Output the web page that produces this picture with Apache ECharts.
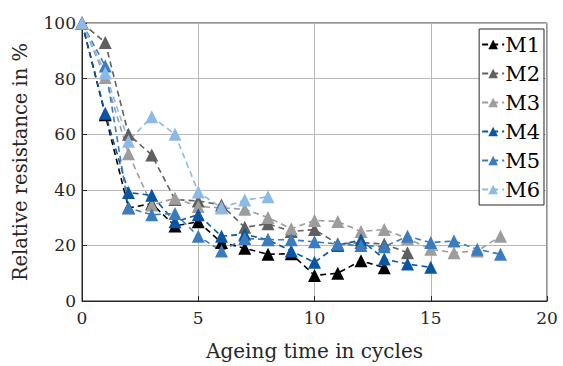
<!DOCTYPE html>
<html>
<head>
<meta charset="utf-8">
<script src="https://cdn.jsdelivr.net/npm/echarts@6/dist/echarts.min.js"></script>
<style>
  html, body { margin: 0; padding: 0; background: #fff; }
  #chart { width: 563px; height: 366px; }
</style>
</head>
<body>
<div id="chart"></div>
<script>
// relative resistance (%) per ageing cycle, index = cycle number
const seriesNames = ['M1', 'M2', 'M3', 'M4', 'M5', 'M6'];
const m1 = [100, 67, 33.5, 35, 27, 28.5, 21, 19, 16.8, 17, 9.2, 10, 14.5, 12];
const m2 = [100, 93, 60, 52.5, 36.5, 36, 34.5, 26.5, 27.8, 25, 25.7, 20.5, 21, 20.5, 17.4];
const m3 = [100, 80.4, 53, 34.5, 37, 34, 33.5, 33, 30, 26, 29, 28.6, 25, 25.7, 22.5, 18.6, 17.4, 18, 23.3];
const m4 = [100, 67.5, 39, 38, 28.5, 31, 23.3, 24, 22, 18, 13.9, 20, 22, 15.1, 13.3, 12.1];
const m5 = [100, 84.5, 33.5, 31, 31.5, 23.3, 18, 22.5, 22.1, 22, 21.3, 20.5, 20, 19.5, 23.3, 21, 21.6, 18.6, 16.8];
const m6 = [100, 82, 57.5, 66.3, 60, 39.2, 33.5, 36.3, 37.5];
const colors = ['#000000', '#5f5f5f', '#9d9d9d', '#0a56a4', '#3a7cbf', '#8cb9e6'];

const allData = [m1, m2, m3, m4, m5, m6];
const font = 'DejaVu Serif';

// svg renderer keeps the dash pattern on the lines
const chart = echarts.init(document.getElementById('chart'), null, { renderer: 'svg' });
const option = {
  animation: false,
  color: colors,
  grid: {
    left: 82, right: 16, top: 23, bottom: 60,
    show: true, borderColor: '#262626', borderWidth: 1
  },
  legend: {
    orient: 'vertical',
    right: 19,
    top: 29,
    padding: [5, 4, 5, 2],
    itemGap: 8,
    itemWidth: 22,
    itemHeight: 12,
    backgroundColor: '#fff',
    borderColor: '#262626',
    borderWidth: 1,
    textStyle: { fontFamily: font, fontSize: 21, color: '#000', padding: [0, 0, 0, -4] },
    data: seriesNames
  },
  xAxis: {
    type: 'value', min: 0, max: 20, interval: 5,
    name: 'Ageing time in cycles',
    nameLocation: 'middle', nameGap: 40,
    nameTextStyle: { fontFamily: font, fontSize: 20, color: '#262626' },
    axisLine: { lineStyle: { color: '#262626' } },
    axisTick: { inside: true, length: 5, lineStyle: { color: '#262626' } },
    axisLabel: { fontFamily: font, fontSize: 17, color: '#262626', margin: 8 },
    splitLine: { lineStyle: { color: '#b8b8b8' } }
  },
  yAxis: {
    type: 'value', min: 0, max: 100, interval: 20,
    name: 'Relative resistance in %',
    nameLocation: 'middle', nameGap: 52,
    nameTextStyle: { fontFamily: font, fontSize: 19.5, color: '#262626' },
    axisLine: { show: true, lineStyle: { color: '#262626' } },
    axisTick: { show: true, inside: true, length: 5, lineStyle: { color: '#262626' } },
    axisLabel: { fontFamily: font, fontSize: 17, color: '#262626', margin: 6 },
    splitLine: { lineStyle: { color: '#b8b8b8' } }
  },
  series: seriesNames.map((name, i) => ({
    name: name,
    type: 'line',
    clip: false,
    symbol: 'triangle',
    symbolSize: 13,
    data: allData[i].map((v, k) => [k, v]),
    lineStyle: { width: 1.6, type: [6, 4], color: colors[i] },
    itemStyle: { color: colors[i] }
  }))
};
chart.setOption(option);
</script>
</body>
</html>
